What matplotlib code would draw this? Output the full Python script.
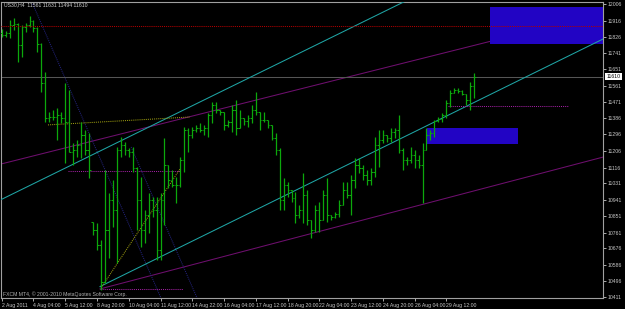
import matplotlib
matplotlib.use("Agg")
import matplotlib.pyplot as plt
from matplotlib.patches import Rectangle
import numpy as np

plt.rcParams['font.family'] = ['Liberation Sans', 'DejaVu Sans']

# US30 H4 bars (open, high, low, close)
opens = [11848, 11837, 11848, 11892, 11897, 11783, 11881, 11892, 11914, 11876,
         11788, 11576, 11386, 11391, 11391, 11402, 11386, 11364, 11201, 11211,
         11239, 11293, 11211, 10819, 10776, 10694, 10495, 10776, 10939, 10885,
         11211, 11239, 11211, 11201, 11113, 10939, 10776, 10858, 10939, 10885,
         10667, 10939, 11130, 11048, 11021, 11021, 11157, 11320, 11293, 11320,
         11331, 11320, 11331, 11402, 11456, 11429, 11418, 11348, 11364, 11429,
         11331, 11386, 11369, 11386, 11429, 11418, 11375, 11375, 11348, 11277,
         11211, 10939, 11021, 10994, 10950, 10858, 10885, 10966, 10830, 10776,
         10885, 10830, 10966, 10858, 10847, 10863, 10912, 10994, 10966, 11048,
         11130, 11113, 11075, 11048, 11092, 11239, 11266, 11293, 11277, 11309,
         11320, 11211, 11157, 11157, 11184, 11157, 11130, 11211, 11293, 11304,
         11369, 11380, 11402, 11467, 11522, 11538, 11533, 11516, 11484, 11561]
highs = [11870, 11859, 11919, 11930, 11903, 11892, 11903, 11941, 11919, 11881,
         11794, 11636, 11418, 11429, 11440, 11418, 11576, 11538, 11250, 11266,
         11364, 11320, 11304, 10819, 10814, 10721, 11103, 10977, 11048, 11228,
         11282, 11255, 11222, 11228, 11119, 11064, 10885, 10977, 10956, 10956,
         10977, 11277, 11130, 11103, 11064, 11173, 11337, 11331, 11337, 11348,
         11358, 11348, 11413, 11473, 11473, 11429, 11418, 11375, 11456, 11484,
         11429, 11386, 11402, 11456, 11527, 11418, 11418, 11375, 11348, 11304,
         11222, 11059, 11037, 10994, 10983, 10912, 11086, 10994, 10830, 10912,
         10928, 10994, 11059, 10858, 10874, 10939, 11037, 11037, 11075, 11168,
         11168, 11130, 11103, 11113, 11282, 11320, 11320, 11293, 11331, 11331,
         11402, 11222, 11173, 11228, 11211, 11184, 11250, 11331, 11320, 11375,
         11391, 11413, 11484, 11538, 11549, 11549, 11538, 11516, 11582, 11631]
lows = [11827, 11827, 11821, 11865, 11690, 11718, 11854, 11881, 11854, 11745,
        11527, 11364, 11364, 11375, 11266, 11358, 11141, 11201, 11130, 11173,
        11168, 11184, 11059, 10749, 10667, 10449, 10490, 10623, 10792, 10596,
        11173, 11184, 11173, 11092, 10776, 10683, 10705, 10760, 10847, 10612,
        10612, 10803, 11005, 11010, 10923, 11010, 11092, 11201, 11277, 11309,
        11309, 11293, 11282, 11358, 11413, 11402, 11320, 11337, 11309, 11293,
        11331, 11348, 11337, 11358, 11402, 11320, 11364, 11331, 11266, 11184,
        10885, 10885, 10956, 10928, 10814, 10841, 10814, 10803, 10732, 10765,
        10765, 10830, 10819, 10830, 10841, 10847, 10912, 10950, 10858, 11005,
        11086, 11048, 11021, 11021, 11064, 11119, 11250, 11255, 11255, 11277,
        11195, 11103, 11130, 11141, 11113, 11113, 10923, 11211, 11266, 11282,
        11364, 11364, 11386, 11445, 11522, 11522, 11511, 11456, 11429, 11494]
closes = [11837, 11848, 11892, 11897, 11783, 11881, 11892, 11914, 11876, 11788,
          11576, 11386, 11391, 11391, 11402, 11386, 11364, 11201, 11211, 11239,
          11293, 11211, 11103, 10776, 10694, 10493, 10776, 10939, 10885, 11211,
          11239, 11211, 11201, 11113, 10939, 10776, 10858, 10939, 10885, 10667,
          10939, 11130, 11048, 11021, 11021, 11157, 11320, 11293, 11320, 11331,
          11320, 11331, 11402, 11456, 11429, 11418, 11348, 11364, 11429, 11331,
          11386, 11369, 11386, 11429, 11418, 11375, 11375, 11348, 11277, 11211,
          10939, 11021, 10994, 10950, 10858, 10885, 10966, 10830, 10776, 10885,
          10830, 10966, 10858, 10847, 10863, 10912, 10994, 10966, 11048, 11130,
          11113, 11075, 11048, 11092, 11239, 11266, 11293, 11277, 11309, 11320,
          11211, 11157, 11157, 11184, 11157, 11130, 11211, 11293, 11304, 11369,
          11380, 11402, 11467, 11522, 11538, 11533, 11516, 11484, 11561, 11610]

price_ticks = [12006, 11916, 11826, 11741, 11651, 11561, 11471, 11386, 11296, 11206,
               11116, 11031, 10941, 10851, 10761, 10676, 10586, 10496, 10411]
time_ticks = [0, 8, 16, 24, 32, 40, 48, 56, 64, 72, 80, 88, 96, 104, 112]
time_labels = ['2 Aug 2011', '4 Aug 04:00', '5 Aug 12:00', '8 Aug 20:00', '10 Aug 04:00',
               '11 Aug 12:00', '14 Aug 22:00', '16 Aug 04:00', '17 Aug 12:00', '18 Aug 20:00',
               '22 Aug 04:00', '23 Aug 12:00', '24 Aug 20:00', '26 Aug 04:00', '29 Aug 12:00']

last_price = 11610
red_level = 11886

# trend objects: (bar0, price0, bar1, price1)
channel_cyan = [(24.76, 10468, 151.5, 11816), (-0.2, 10941, 110.0, 12110)]
lines_purple = [(-0.2, 11135, 151.5, 11957), (24.76, 10455, 151.5, 11173)]
dotted_yellow = [(11.66, 11348, 47.4, 11391), (25.0, 10460, 44.9, 11108)]
dotted_magenta = [(16.7, 11097, 44.9, 11097), (24.8, 10455, 45.7, 10455),
                  (112.4, 11451, 142.6, 11451)]
dotted_navy = [(7.6, 12017, 40.1, 10406), (32.6, 11228, 49.2, 10406)]
# rectangles: (bar0, bar1, low, high)
boxes = [(123.0, 151.5, 11788, 11990), (107.1, 130.1, 11242, 11333)]

W, H = 625, 309
fs = 3.7
fig = plt.figure(figsize=(W / 100, H / 100), dpi=100, facecolor='black')
ax = fig.add_axes([1 / W, 11 / H, 602 / W, 296 / H], facecolor='black')
ax.set_xlim(-0.18, 151.46)
ax.set_ylim(10405.7, 12017.1)

lw = 0.75
dot = (0, (1, 1))
for b0, b1, lo, hi in boxes:
    ax.add_patch(Rectangle((b0, lo), b1 - b0, hi - lo, facecolor='#2204c4',
                           edgecolor='none', zorder=2))
for b0, p0, b1, p1 in lines_purple:
    ax.plot([b0, b1], [p0, p1], color='#6e0f6e', lw=lw, zorder=1)
for b0, p0, b1, p1 in channel_cyan:
    ax.plot([b0, b1], [p0, p1], color='#1fa5a5', lw=lw, zorder=3)
for b0, p0, b1, p1 in dotted_yellow:
    ax.plot([b0, b1], [p0, p1], color='#9a9a10', lw=lw, ls=dot, zorder=3)
for b0, p0, b1, p1 in dotted_magenta:
    ax.plot([b0, b1], [p0, p1], color='#a020a0', lw=lw, ls=dot, zorder=3)
for b0, p0, b1, p1 in dotted_navy:
    ax.plot([b0, b1], [p0, p1], color='#22227a', lw=lw, ls=dot, zorder=1)
ax.axhline(red_level, color='#b00000', lw=lw, ls=dot, zorder=4)
ax.axhline(last_price, color='#555555', lw=lw, zorder=1)

x = np.arange(len(highs))
green = '#0ca80c'
ax.vlines(x, lows, highs, color=green, lw=0.9, zorder=3)
ax.hlines(opens, x - 0.4, x, color=green, lw=lw, zorder=3)
ax.hlines(closes, x, x + 0.4, color=green, lw=lw, zorder=3)

for s in ax.spines.values():
    s.set_color('#a0a0a0')
    s.set_linewidth(0.8)

ax.yaxis.tick_right()
ax.set_yticks(price_ticks)
ax.set_yticklabels([str(p) for p in price_ticks])
ax.tick_params(axis='y', colors='#c8c8c8', labelsize=fs, length=2, width=0.6, pad=1.5)
ax.set_xticks(time_ticks)
ax.set_xticklabels(time_labels, ha='left')
ax.tick_params(axis='x', colors='#c8c8c8', labelsize=fs, length=2, width=0.6, pad=1.5)

ax.annotate(str(last_price), xy=(1.0, last_price), xycoords=('axes fraction', 'data'),
            xytext=(2.5, 0), textcoords='offset points', va='center', ha='left',
            fontsize=fs, color='black',
            bbox=dict(boxstyle='square,pad=0.2', facecolor='white', edgecolor='none'))

fig.text(4 / W, 1 - 5 / H, 'US30,H4  11561 11631 11494 11610', fontsize=fs,
         color='#d0d0d0', va='center', ha='left')
fig.text(3 / W, 1 - 294 / H, 'FXCM MT4, \u00a9 2001-2010 MetaQuotes Software Corp.',
         fontsize=fs, color='#b0b0b0', va='center', ha='left')

fig.savefig('out.png', dpi=100, facecolor='black')
